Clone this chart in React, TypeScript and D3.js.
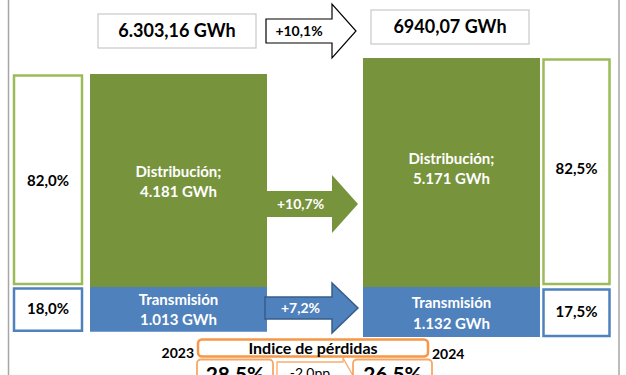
import React, {useEffect, useRef} from "react";
import * as d3 from "d3";

const W = 626;
const H = 375;

// data
const years = ["2023", "2024"];
const distribucion = [4181, 5171];
const transmision = [1013, 1132];
const distShare = ["82,0%", "82,5%"];
const transShare = ["18,0%", "17,5%"];
const totalLabels = ["6.303,16 GWh", "6940,07 GWh"];
const totalGrowth = "+10,1%";
const distGrowth = "+10,7%";
const transGrowth = "+7,2%";
const lossIndex = ["28,5%", "26,5%"];
const lossChange = "-2,0pp";

const fmt = (v: number) => d3.format(",")(v).replace(/,/g, ".");

const GREEN = "#77933C";
const GREEN_LIGHT = "#9BBB59";
const BLUE = "#4F81BD";
const BLUE_DARK = "#385D8A";
const ORANGE = "#F79646";
const FONT = "Lato, 'Open Sans', sans-serif";

// right-pointing block arrow
function arrowPath(x0: number, xs: number, xt: number, yc: number, sh: number, hh: number) {
  const p = d3.path();
  p.moveTo(x0, yc - sh);
  p.lineTo(xs, yc - sh);
  p.lineTo(xs, yc - hh);
  p.lineTo(xt, yc);
  p.lineTo(xs, yc + hh);
  p.lineTo(xs, yc + sh);
  p.lineTo(x0, yc + sh);
  p.closePath();
  return p.toString();
}

export default function App() {
  const ref = useRef<SVGSVGElement>(null);

  useEffect(() => {
    const svg = d3.select(ref.current);
    svg.selectAll("*").remove();

    const baseline = 287;
    const x = d3.scaleBand().domain(years).range([90, 540]).paddingInner(0.3516);
    const bw = x.bandwidth();
    // schematic heights: distribución grows up, transmisión grows down
    const hDist = d3.scaleLinear().domain([-8990, 5171]).range([0, 229]);
    const hTrans = d3.scaleLinear().domain([0, 1132]).range([0, 50]);

    // frame lines
    svg.append("line").attr("x1", 8.5).attr("x2", 8.5).attr("y1", 0).attr("y2", H)
      .attr("stroke", "#A6A6A6").attr("stroke-width", 1.5);
    svg.append("line").attr("x1", 619).attr("x2", 619).attr("y1", 0).attr("y2", H)
      .attr("stroke", "#A6A6A6").attr("stroke-width", 1.5);

    const labelShift = [3.5, 8.5];
    const shareShift = [5, 1];

    // bars
    years.forEach((yr, i) => {
      const x0 = x(yr)!;
      const gTop = baseline - hDist(distribucion[i]);
      const bBot = baseline + hTrans(transmision[i]);
      svg.append("rect").attr("x", x0).attr("y", gTop).attr("width", bw)
        .attr("height", baseline - gTop).attr("fill", GREEN);
      svg.append("rect").attr("x", x0).attr("y", baseline).attr("width", bw)
        .attr("height", bBot - baseline).attr("fill", BLUE);

      const cx = x0 + bw / 2;
      const gMid = (gTop + baseline) / 2;
      const dl = svg.append("text").attr("x", cx).attr("text-anchor", "middle")
        .attr("fill", "white").attr("font-weight", "bold").attr("font-size", 15)
        .attr("font-family", FONT);
      dl.append("tspan").attr("x", cx).attr("y", gMid - labelShift[i]).text("Distribución;");
      dl.append("tspan").attr("x", cx).attr("y", gMid - labelShift[i] + 20).text(fmt(distribucion[i]) + " GWh");

      const tl = svg.append("text").attr("text-anchor", "middle").attr("fill", "white")
        .attr("font-weight", "bold").attr("font-size", 15).attr("font-family", FONT);
      tl.append("tspan").attr("x", cx).attr("y", baseline + 18 + i * 3).text("Transmisión");
      tl.append("tspan").attr("x", cx).attr("y", baseline + 38 + i * 4).text(fmt(transmision[i]) + " GWh");

      // share boxes
      const bx = i === 0 ? x0 - 76 : x0 + bw + 3.5;
      const bwid = i === 0 ? 68 : 66;
      svg.append("rect").attr("x", bx).attr("y", gTop + 1.5).attr("width", bwid)
        .attr("height", baseline - 3 - gTop - 1.5).attr("fill", "white")
        .attr("stroke", GREEN_LIGHT).attr("stroke-width", 2.5);
      svg.append("rect").attr("x", bx).attr("y", baseline + 1.5 + i).attr("width", bwid)
        .attr("height", bBot - 1 - baseline - 1.5 - i).attr("fill", "white")
        .attr("stroke", BLUE).attr("stroke-width", 2.5);
      svg.append("text").attr("x", bx + bwid / 2).attr("y", gMid + shareShift[i])
        .attr("text-anchor", "middle").attr("font-weight", "bold").attr("font-size", 15)
        .attr("font-family", FONT).attr("fill", "black").text(distShare[i]);
      svg.append("text").attr("x", bx + bwid / 2).attr("y", (baseline + bBot) / 2 + 5)
        .attr("text-anchor", "middle").attr("font-weight", "bold").attr("font-size", 15)
        .attr("font-family", FONT).attr("fill", "black").text(transShare[i]);
    });

    const ax0 = x(years[0])! + bw - 2;
    const axs = ax0 + 67;
    const axt = x(years[1])! - 5;

    // growth arrows between the bars
    svg.append("path").attr("d", arrowPath(ax0, axs, axt, 204, 13, 29)).attr("fill", GREEN);
    svg.append("text").attr("x", (ax0 + axs) / 2 + 2).attr("y", 209).attr("text-anchor", "middle")
      .attr("fill", "white").attr("font-weight", "bold").attr("font-size", 14)
      .attr("font-family", FONT).text(distGrowth);
    svg.append("path").attr("d", arrowPath(ax0, axs, axt, 308, 11, 25)).attr("fill", BLUE)
      .attr("stroke", BLUE_DARK).attr("stroke-width", 1.5);
    svg.append("text").attr("x", (ax0 + axs) / 2 + 2).attr("y", 313).attr("text-anchor", "middle")
      .attr("fill", "white").attr("font-weight", "bold").attr("font-size", 14)
      .attr("font-family", FONT).text(transGrowth);

    // totals on top
    const tops = [
      {x: 98, y: 14, w: 158, h: 34},
      {x: 371, y: 10, w: 158, h: 34},
    ];
    tops.forEach((b, i) => {
      svg.append("rect").attr("x", b.x).attr("y", b.y).attr("width", b.w).attr("height", b.h)
        .attr("fill", "white").attr("stroke", "#C8C8C8").attr("stroke-width", 1.2);
      svg.append("text").attr("x", b.x + b.w / 2).attr("y", b.y + b.h / 2 + 6)
        .attr("text-anchor", "middle").attr("font-weight", "bold").attr("font-size", 18)
        .attr("font-family", FONT).attr("fill", "black").text(totalLabels[i]);
    });
    svg.append("path").attr("d", arrowPath(266, 332, 356, 31, 12, 27)).attr("fill", "white")
      .attr("stroke", "black").attr("stroke-width", 1.2);
    svg.append("text").attr("x", 299).attr("y", 36).attr("text-anchor", "middle")
      .attr("font-weight", "bold").attr("font-size", 14).attr("font-family", FONT)
      .attr("fill", "black").text(totalGrowth);

    // loss index
    svg.append("rect").attr("x", 198).attr("y", 339.5).attr("width", 230).attr("height", 17)
      .attr("rx", 4).attr("fill", "white").attr("stroke", ORANGE).attr("stroke-width", 2.5);
    svg.append("text").attr("x", 313).attr("y", 354).attr("text-anchor", "middle")
      .attr("font-weight", "bold").attr("font-size", 16).attr("font-family", FONT)
      .attr("fill", "black").text("Indice de pérdidas");
    svg.append("text").attr("x", 194).attr("y", 358).attr("text-anchor", "end")
      .attr("font-weight", "bold").attr("font-size", 14).attr("font-family", FONT)
      .attr("fill", "black").text(years[0]);
    svg.append("text").attr("x", 432).attr("y", 359).attr("text-anchor", "start")
      .attr("font-weight", "bold").attr("font-size", 14).attr("font-family", FONT)
      .attr("fill", "black").text(years[1]);

    svg.append("path").attr("d", arrowPath(277, 343, 356, 381, 19, 23)).attr("fill", "white")
      .attr("stroke", ORANGE).attr("stroke-width", 1.3).attr("stroke-opacity", 0.8);
    svg.append("text").attr("x", 310).attr("y", 378).attr("text-anchor", "middle")
      .attr("font-size", 14).attr("font-family", FONT).attr("fill", "black").text(lossChange);
    const lossBoxes = [197, 353];
    lossBoxes.forEach((bx, i) => {
      svg.append("rect").attr("x", bx).attr("y", 359.5).attr("width", i ? 79 : 76).attr("height", 40)
        .attr("rx", 4).attr("fill", "white").attr("stroke", ORANGE).attr("stroke-width", 1.8)
        .attr("stroke-opacity", 0.85);
      svg.append("text").attr("x", bx + (i ? 39.5 : 38)).attr("y", 382).attr("text-anchor", "middle")
        .attr("font-weight", "bold").attr("font-size", 21).attr("font-family", FONT)
        .attr("fill", "black").text(lossIndex[i]);
    });
  }, []);

  return (
    <svg ref={ref} width={W} height={H}
      style={{position: "absolute", left: 0, top: 0, background: "white"}} />
  );
}
